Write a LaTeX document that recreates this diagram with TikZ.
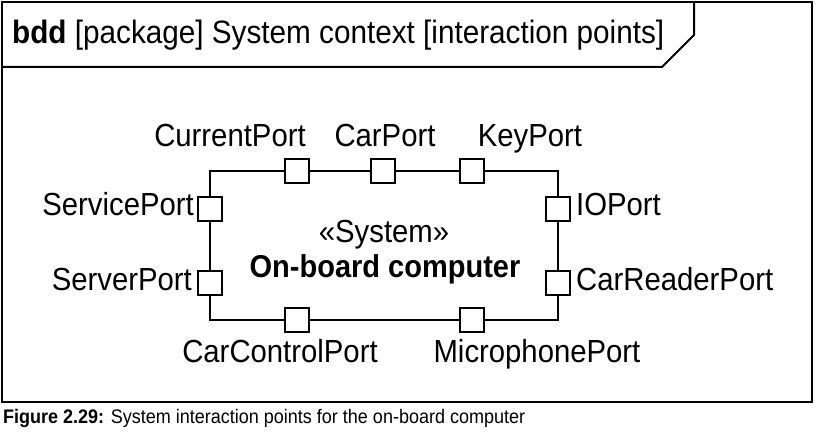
\documentclass[tikz,border=0pt]{standalone}
\usepackage{fontspec}
\usepackage{graphicx}
\setmainfont{Liberation Sans}
\newcommand{\tallt}[1]{\scalebox{1}[1.09]{#1}}
\begin{document}
\begin{tikzpicture}[x=1pt,y=-1pt,
  framebox/.style={draw=black,line width=2pt,inner sep=0,outer sep=0},
  tabline/.style={draw=black,line width=2pt,line join=miter},
  blockbox/.style={draw=black,line width=1.5pt,inner sep=0,outer sep=0,minimum width=348pt,minimum height=149pt},
  portbox/.style={draw=black,fill=white,line width=1.5pt,inner sep=0,minimum size=24pt},
  lbl/.style={inner sep=0,font=\fontsize{29.3}{34}\selectfont},
  titletext/.style={inner sep=0,font=\fontsize{29.7}{35}\selectfont},
  captext/.style={inner sep=0,font=\fontsize{18}{22}\selectfont}]
\useasboundingbox (0,0) rectangle (818,433);
% outer frame
\node[framebox,minimum width=810pt,minimum height=400pt] (frame) at (407,202) {};
% name tab
\coordinate (t1) at (2,67);
\coordinate (t2) at (662,67);
\coordinate (t3) at (694,35);
\coordinate (t4) at (694,2);
\draw[tabline] (t1) -- (t2) -- (t3) -- (t4);
\node[titletext,anchor=base west] (title) at (12,44) {\tallt{\textbf{bdd} [package] System context [interaction points]}};
% block
\node[blockbox] (sys) at (384,245.5) {};
\node[lbl,anchor=base] (stereo) at (384,242) {\tallt{«System»}};
\node[lbl,anchor=base,font=\fontsize{29}{34}\selectfont\bfseries] (sysname) at (385,277) {\tallt{On-board computer}};
% ports
\node[portbox] (pCurrent) at (297,171) {};
\node[portbox] (pCar) at (383,171) {};
\node[portbox] (pKey) at (472,171) {};
\node[portbox] (pService) at (210,209) {};
\node[portbox] (pServer) at (210,283) {};
\node[portbox] (pIO) at (558,209) {};
\node[portbox] (pReader) at (558,283) {};
\node[portbox] (pControl) at (297,320) {};
\node[portbox] (pMic) at (472,320) {};
% port labels
\node[lbl,anchor=base] (lCurrent) at (230,146) {\tallt{CurrentPort}};
\node[lbl,anchor=base] (lCar) at (385,146) {\tallt{CarPort}};
\node[lbl,anchor=base] (lKey) at (530,146) {\tallt{KeyPort}};
\node[lbl,anchor=base east] (lService) at (194,215) {\tallt{ServicePort}};
\node[lbl,anchor=base east] (lServer) at (192,290) {\tallt{ServerPort}};
\node[lbl,anchor=base west] (lIO) at (576,215) {\tallt{IOPort}};
\node[lbl,anchor=base west] (lReader) at (576,290) {\tallt{CarReaderPort}};
\node[lbl,anchor=base] (lControl) at (280,362) {\tallt{CarControlPort}};
\node[lbl,anchor=base] (lMic) at (537,362) {\tallt{MicrophonePort}};
% caption
\node[captext,anchor=base west] (caption) at (3,423) {\tallt{\textbf{Figure 2.29:} System interaction points for the on-board computer}};
\end{tikzpicture}
\end{document}
